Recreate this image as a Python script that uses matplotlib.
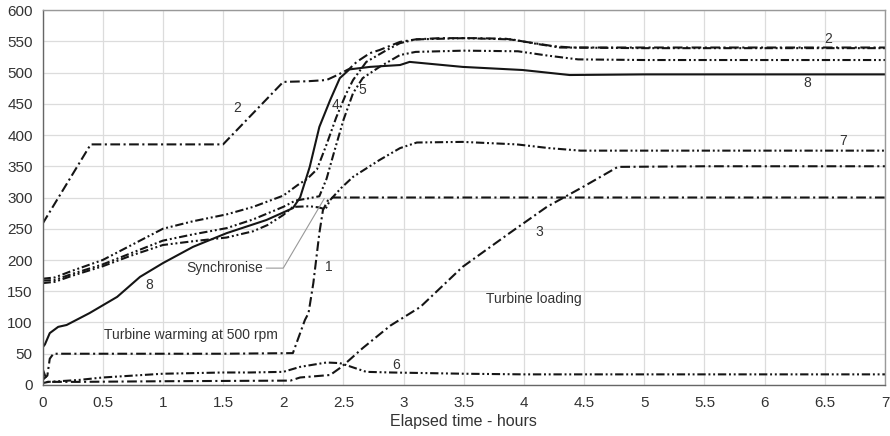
import matplotlib
matplotlib.use("Agg")
import matplotlib.pyplot as plt
import numpy as np

plt.rcParams['font.family'] = ['Liberation Sans', 'DejaVu Sans']
plt.rcParams['lines.scale_dashes'] = False

# ---- data (elapsed time in hours) ----
t1 = [0.0, 0.04, 0.06, 0.09, 0.5, 1.0, 1.5, 2.08, 2.18, 2.21, 2.25, 2.30, 2.33, 2.37, 2.41, 3.0, 4.0, 5.0, 6.0, 7.0]
v1 = [8, 15, 42, 50, 50, 50, 50, 51, 104, 115, 163, 243, 280, 295, 300, 300, 300, 300, 300, 300]

t2 = [0.0, 0.4, 0.8, 1.2, 1.5, 2.0, 2.2, 2.36, 2.45, 2.55, 2.61, 2.72, 2.8, 2.97, 3.1, 3.3, 3.6, 3.85, 4.05, 4.25, 4.4, 5.0, 6.0, 7.0]
v2 = [258, 385, 385, 385, 385, 485, 486, 488, 496, 506, 517, 531, 536, 549, 553, 555, 555, 554, 548, 542, 540, 540, 540, 540]

t3 = [0.0, 0.04, 0.3, 1.0, 2.06, 2.14, 2.39, 2.47, 2.52, 2.66, 2.89, 3.14, 3.49, 3.88, 4.19, 4.5, 4.78, 5.5, 6.0, 7.0]
v3 = [26, 5, 5, 6, 7, 12, 16, 27, 35, 59, 95, 125, 189, 243, 285, 318, 349, 350, 350, 350]

t4 = [0.0, 0.1, 0.25, 0.5, 0.75, 1.0, 1.25, 1.53, 1.75, 2.0, 2.12, 2.2, 2.28, 2.36, 2.44, 2.52, 2.58, 2.69, 2.86, 2.97, 3.1, 3.5, 3.9, 4.1, 4.3, 5.0, 6.0, 7.0]
v4 = [170, 172, 183, 200, 225, 250, 262, 273, 285, 303, 320, 330, 345, 385, 428, 465, 488, 517, 536, 547, 553, 555, 553, 546, 540, 539, 539, 539]

t5 = [0.0, 0.1, 0.25, 0.5, 0.75, 1.0, 1.25, 1.53, 1.75, 2.0, 2.1, 2.22, 2.30, 2.36, 2.42, 2.50, 2.58, 2.66, 2.80, 2.97, 3.1, 3.5, 3.95, 4.2, 4.45, 5.0, 6.0, 7.0]
v5 = [167, 168, 178, 193, 212, 231, 241, 251, 265, 285, 295, 299, 302, 330, 371, 424, 467, 491, 509, 528, 533, 535, 534, 527, 521, 520, 520, 520]

t6 = [0.0, 0.05, 0.3, 0.5, 0.75, 1.0, 1.5, 1.72, 2.0, 2.14, 2.36, 2.47, 2.52, 2.69, 2.9, 3.5, 4.0, 5.0, 6.0, 7.0]
v6 = [3, 5, 8, 12, 15, 18, 20, 20, 21, 29, 36, 35, 32, 21, 20, 18, 17, 17, 17, 17]

t7 = [0.0, 0.1, 0.25, 0.5, 0.75, 1.0, 1.25, 1.53, 1.75, 1.87, 2.0, 2.08, 2.22, 2.30, 2.35, 2.39, 2.48, 2.58, 2.8, 2.97, 3.11, 3.49, 3.94, 4.21, 4.47, 5.0, 6.0, 7.0]
v7 = [163, 165, 175, 190, 208, 224, 230, 236, 246, 256, 272, 285, 286, 284, 281, 296, 315, 333, 360, 379, 388, 389, 385, 379, 375, 375, 375, 375]

t8 = [0.0, 0.02, 0.06, 0.13, 0.2, 0.39, 0.62, 0.81, 1.0, 1.25, 1.53, 1.86, 2.08, 2.14, 2.22, 2.30, 2.39, 2.47, 2.55, 2.72, 2.97, 3.05, 3.49, 3.99, 4.38, 5.0, 6.0, 7.0]
v8 = [60, 65, 83, 93, 96, 115, 141, 173, 195, 221, 243, 264, 283, 300, 349, 413, 456, 491, 505, 509, 512, 517, 509, 504, 496, 497, 497, 497]

x_ticks = [0, 0.5, 1, 1.5, 2, 2.5, 3, 3.5, 4, 4.5, 5, 5.5, 6, 6.5, 7]
x_tick_labels = ['0', '0.5', '1', '1.5', '2', '2.5', '3', '3.5', '4', '4.5', '5', '5.5', '6', '6.5', '7']
y_ticks = list(range(0, 601, 50))

# curve number labels: (text, t, value)
curve_labels = [('2', 1.62, 443), ('8', 0.89, 160), ('1', 2.38, 189), ('4', 2.43, 448),
                ('5', 2.66, 472), ('6', 2.94, 32), ('3', 4.13, 245), ('2', 6.53, 553),
                ('8', 6.35, 483), ('7', 6.65, 391)]

# ---- styles ----
dashdot = (0, (7, 2.5, 1.5, 2.5))
dashdotdot = (0, (6, 2, 1.4, 2, 1.4, 2))
ink = '#151515'
lw = 1.5

fig = plt.figure(figsize=(8.9, 4.36), dpi=100)
ax = fig.add_axes([0.0478, 0.117, 0.9466, 0.860])

ax.plot(t1, v1, color=ink, lw=lw, linestyle=dashdot)
ax.plot(t3, v3, color=ink, lw=lw, linestyle=dashdot)
ax.plot(t2, v2, color=ink, lw=lw, linestyle=dashdot)
ax.plot(t4, v4, color=ink, lw=lw, linestyle=dashdotdot)
ax.plot(t5, v5, color=ink, lw=lw, linestyle=dashdotdot)
ax.plot(t6, v6, color=ink, lw=lw, linestyle=dashdotdot)
ax.plot(t7, v7, color=ink, lw=lw, linestyle=dashdotdot)
ax.plot(t8, v8, color=ink, lw=lw, linestyle='-')

for txt, x, y in curve_labels:
    ax.text(x, y, txt, ha='center', va='center', fontsize=10, color='#333333')

ax.text(1.23, 80, 'Turbine warming at 500 rpm', ha='center', va='center', fontsize=10, color='#333333')
ax.text(4.08, 137, 'Turbine loading', ha='center', va='center', fontsize=10, color='#333333')
ax.text(1.51, 187, 'Synchronise', ha='center', va='center', fontsize=10, color='#333333')
ax.plot([1.86, 2.0, 2.34], [187, 187, 298], color='#999999', lw=0.8)

ax.set_xlim(0, 7)
ax.set_ylim(0, 600)
ax.set_xticks(x_ticks)
ax.set_xticklabels(x_tick_labels)
ax.set_yticks(y_ticks)
ax.tick_params(axis='both', length=0, labelsize=11, colors='#333333')
ax.tick_params(axis='x', pad=8)
ax.tick_params(axis='y', pad=7)
ax.grid(True, color='#dcdcdc', lw=0.9)
ax.set_axisbelow(True)
for s in ax.spines.values():
    s.set_color('#999999')
    s.set_linewidth(1.0)
ax.spines['left'].set_color('#666666')
ax.spines['bottom'].set_color('#666666')
ax.set_xlabel('Elapsed time - hours', fontsize=11.5, color='#333333', labelpad=3)

fig.savefig('out.png', dpi=100)
